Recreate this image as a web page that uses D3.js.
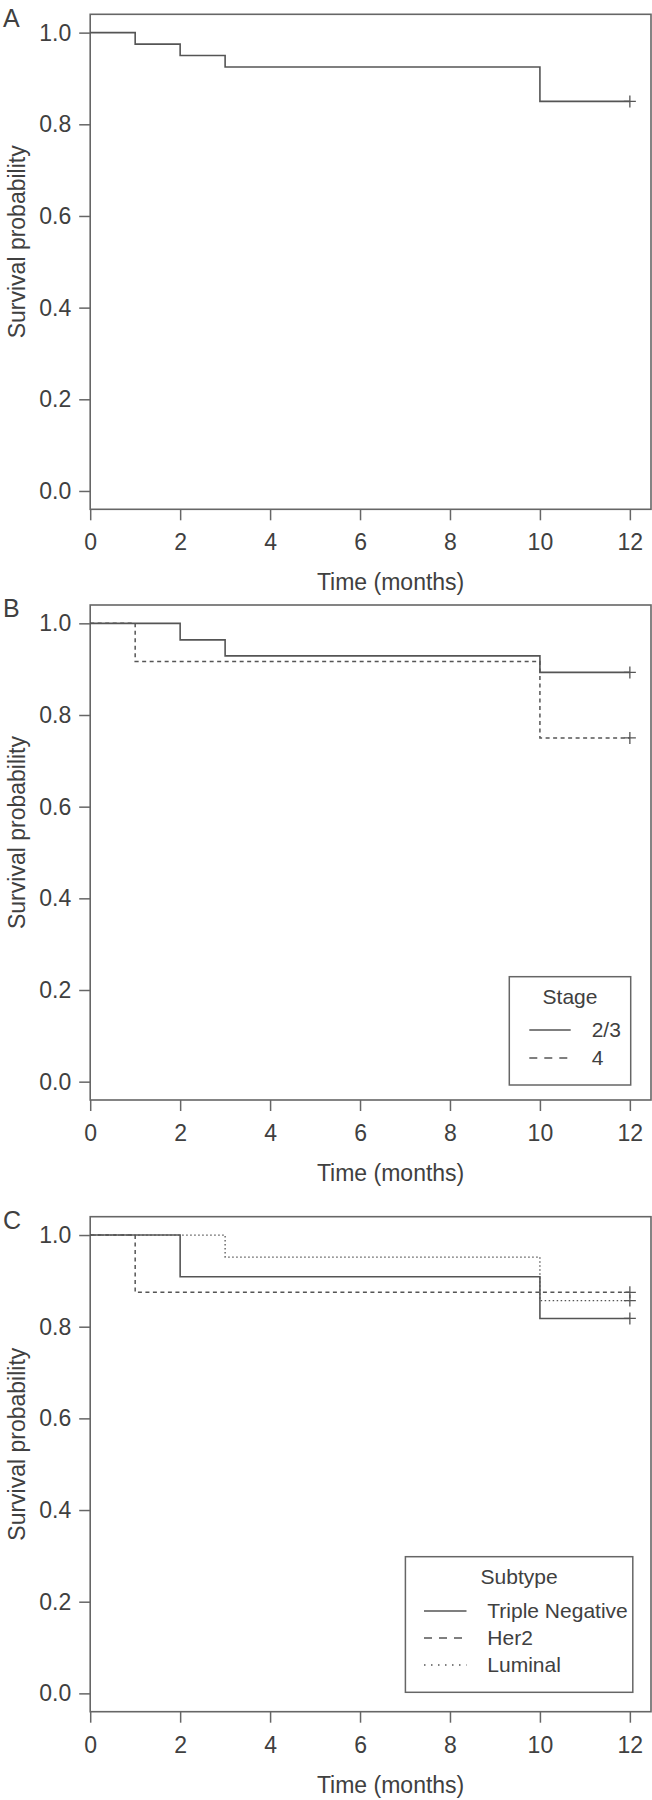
<!DOCTYPE html>
<html>
<head>
<meta charset="utf-8">
<script src="https://cdn.jsdelivr.net/npm/d3@7"></script>
<style>
  body { margin: 0; background: #fff; }
  svg text { font-family: 'Liberation Sans', Arial, sans-serif; fill: #404040; }
</style>
</head>
<body>
<svg></svg>
<script>
// tick values
const monthTicks = [0, 2, 4, 6, 8, 10, 12]
const survTicks = [0, 0.2, 0.4, 0.6, 0.8, 1.0]

// panel A, all patients
const allTimes = [0, 1, 2, 3, 10, 12]
const allSurv = [1, 0.975, 0.95, 0.925, 0.85, 0.85]

// panel B, by stage
const stageNames = ['2/3', '4']
const stage23Times = [0, 2, 3, 10, 12]
const stage23Surv = [1, 0.964, 0.929, 0.893, 0.893]
const stage4Times = [0, 1, 10, 12]
const stage4Surv = [1, 0.917, 0.75, 0.75]

// panel C, by subtype
const subtypeNames = ['Triple Negative', 'Her2', 'Luminal']
const tnTimes = [0, 2, 10, 12]
const tnSurv = [1, 0.909, 0.818, 0.818]
const her2Times = [0, 1, 12]
const her2Surv = [1, 0.875, 0.875]
const lumTimes = [0, 3, 10, 12]
const lumSurv = [1, 0.952, 0.857, 0.857]

const width = 652,
  height = 1800

const lineColor = '#555'
const boxColor = '#666'

const styles = {
  solid: { plot: null, legend: null, w: 1.6 },
  dashed: { plot: '4,3.5', legend: '8,7', w: 1.5 },
  dotted: { plot: '1.5,2.5', legend: '1.5,5.5', w: 1.3 }
}

const zip = (t, s) => t.map((d, i) => [d, s[i]])

const panels = [
  {
    label: 'A', top: 14.3,
    series: [{ pts: zip(allTimes, allSurv), style: 'solid' }],
    legend: null
  },
  {
    label: 'B', top: 605,
    series: [
      { pts: zip(stage23Times, stage23Surv), style: 'solid' },
      { pts: zip(stage4Times, stage4Surv), style: 'dashed' }
    ],
    legend: {
      title: 'Stage', names: stageNames, styles: ['solid', 'dashed'],
      x0: 509.3, x1: 630.7, y0: 371.7, y1: 480,
      lineX0: 529.3, lineX1: 570.7, textX: 591.7, titleY: 20.3, rowY: 53.3, rowStep: 28
    }
  },
  {
    label: 'C', top: 1216.7,
    series: [
      { pts: zip(tnTimes, tnSurv), style: 'solid' },
      { pts: zip(her2Times, her2Surv), style: 'dashed' },
      { pts: zip(lumTimes, lumSurv), style: 'dotted' }
    ],
    legend: {
      title: 'Subtype', names: subtypeNames, styles: ['solid', 'dashed', 'dotted'],
      x0: 405.4, x1: 632.8, y0: 340, y1: 475.6,
      lineX0: 424, lineX1: 466.5, textX: 487.3, titleY: 20.3, rowY: 54.3, rowStep: 27
    }
  }
]

const svg = d3.select('svg')
  .attr('width', width)
  .attr('height', height)

const plotLeft = 90.2,
  plotRight = 651,
  plotHeight = 495

const x = d3.scaleLinear()
  .domain([0, 12.47])
  .range([plotLeft, plotRight])

panels.forEach(drawPanel)

function drawPanel(p) {
  const g = svg.append('g')
    .attr('transform', `translate(0,${p.top})`)

  const y = d3.scaleLinear()
    .domain([-0.04, 1.04])
    .range([plotHeight, 0])

  // panel letter
  g.append('text')
    .attr('x', 3)
    .attr('y', 3.5)
    .attr('dy', '0.35em')
    .style('font-size', '25px')
    .text(p.label)

  // axes
  const yAxis = g.append('g')
    .attr('transform', `translate(${plotLeft},0)`)
    .call(d3.axisLeft(y).tickValues(survTicks).tickFormat(d3.format('.1f')).tickSize(11).tickPadding(8))
  const xAxis = g.append('g')
    .attr('transform', `translate(0,${plotHeight})`)
    .call(d3.axisBottom(x).tickValues(monthTicks).tickFormat(d3.format('d')).tickSize(11).tickPadding(13.5))

  ;[yAxis, xAxis].forEach(a => {
    a.select('.domain').remove()
    a.selectAll('line').attr('stroke', boxColor).attr('stroke-width', 1.5)
    a.selectAll('text').style('font-size', '23px').attr('fill', '#404040')
  })

  // box
  g.append('rect')
    .attr('x', plotLeft)
    .attr('y', 0)
    .attr('width', plotRight - plotLeft)
    .attr('height', plotHeight)
    .attr('fill', 'none')
    .attr('stroke', boxColor)
    .attr('stroke-width', 1.6)

  // axis titles
  g.append('text')
    .attr('transform', `translate(17,${plotHeight / 2 - 20}) rotate(-90)`)
    .attr('text-anchor', 'middle')
    .attr('dy', '0.35em')
    .style('font-size', '23px')
    .text('Survival probability')

  g.append('text')
    .attr('x', (plotLeft + plotRight) / 2 + 20)
    .attr('y', plotHeight + 81)
    .attr('text-anchor', 'middle')
    .style('font-size', '23px')
    .text('Time (months)')

  // survival curves
  const line = d3.line()
    .x(d => x(d[0]))
    .y(d => y(d[1]))
    .curve(d3.curveStepAfter)

  p.series.forEach(s => {
    const st = styles[s.style]
    g.append('path')
      .datum(s.pts)
      .attr('d', line)
      .attr('fill', 'none')
      .attr('stroke', lineColor)
      .attr('stroke-width', st.w)
      .attr('stroke-dasharray', st.plot)

    // censor mark at last point
    const last = s.pts[s.pts.length - 1]
    const cx = x(last[0]), cy = y(last[1])
    g.append('path')
      .attr('d', `M${cx - 6},${cy}H${cx + 6}M${cx},${cy - 6}V${cy + 6}`)
      .attr('stroke', lineColor)
      .attr('stroke-width', 1.3)
  })

  if (p.legend) drawLegend(g, p.legend)
}

function drawLegend(g, L) {
  const lg = g.append('g')

  lg.append('rect')
    .attr('x', L.x0)
    .attr('y', L.y0)
    .attr('width', L.x1 - L.x0)
    .attr('height', L.y1 - L.y0)
    .attr('fill', '#fff')
    .attr('stroke', boxColor)
    .attr('stroke-width', 1.5)

  lg.append('text')
    .attr('x', (L.x0 + L.x1) / 2)
    .attr('y', L.y0 + L.titleY)
    .attr('dy', '0.35em')
    .attr('text-anchor', 'middle')
    .style('font-size', '21px')
    .text(L.title)

  L.names.forEach((name, i) => {
    const ry = L.y0 + L.rowY + i * L.rowStep
    const st = styles[L.styles[i]]
    lg.append('line')
      .attr('x1', L.lineX0)
      .attr('x2', L.lineX1)
      .attr('y1', ry)
      .attr('y2', ry)
      .attr('stroke', lineColor)
      .attr('stroke-width', st.w)
      .attr('stroke-dasharray', st.legend)
    lg.append('text')
      .attr('x', L.textX)
      .attr('y', ry)
      .attr('dy', '0.35em')
      .style('font-size', '21px')
      .text(name)
  })
}
</script>
</body>
</html>
